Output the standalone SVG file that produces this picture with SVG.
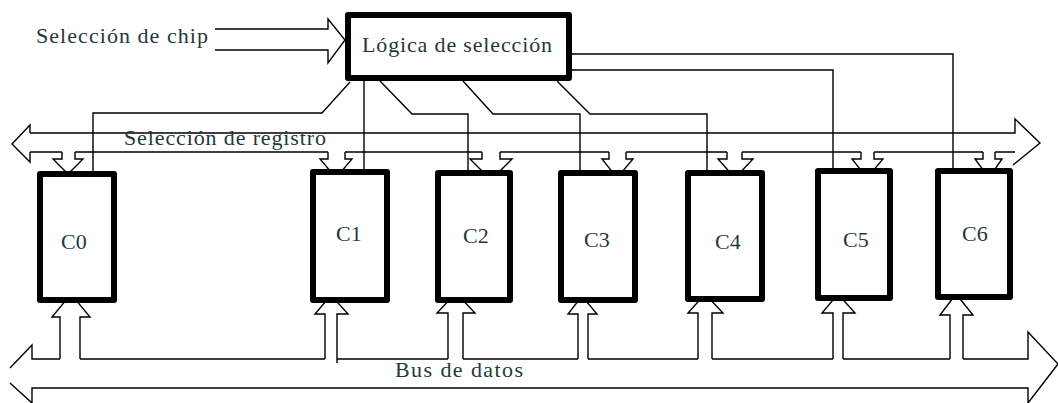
<svg xmlns="http://www.w3.org/2000/svg" width="1058" height="403" viewBox="0 0 1058 403">
<style>
.ln{fill:none;stroke:#000;stroke-width:1.4;stroke-linejoin:miter}
.ar{fill:#fff;stroke:#000;stroke-width:1.4}
.bx{fill:#fff;stroke:#000;stroke-width:6;stroke-linejoin:round}
.tx{font-family:"Liberation Serif","Times New Roman",serif;font-size:22px;fill:#1f3a3a}
.lb{font-family:"Liberation Serif","Times New Roman",serif;font-size:22px;fill:#1f3a3a}
</style>
<g id="connectors">
  <!-- chip select input arrow -->
  <path class="ln" d="M215,29 H328 V19 L345,40 L328,63 V50 H215"/>
  <!-- register select bus -->
  <path class="ln" d="M30,133 H1015 V119 L1040,143 L1013,165"/>
  <path class="ln" d="M30,133 V125 L12,144 L30,162 V152"/>
  <path class="ln" d="M30,152 H62 M75,152 H328 M345,152 H482 M500,152 H609 M626,152 H727 M742,152 H861 M874,152 H983 M995,152 H1015"/>
  <!-- register select down arrows -->
  <path class="ar" d="M62,152 V159 H53 L68,174 L83,159 H75 V152"/>
  <path class="ar" d="M328,152 V159 H320 L336,178 L352,159 H345 V152"/>
  <path class="ar" d="M482,152 V159 H470 L491,180 L512,159 H500 V152"/>
  <path class="ar" d="M609,152 V159 H602 L617,178 L633,159 H626 V152"/>
  <path class="ar" d="M727,152 V159 H718 L735,178 L753,159 H742 V152"/>
  <path class="ar" d="M861,152 V159 H852 L867,178 L883,159 H874 V152"/>
  <path class="ar" d="M983,152 V159 H975 L989,178 L1002,159 H995 V152"/>
  <!-- data bus -->
  <path class="ln" d="M10,368 L32,345 V359 H60 M80,359 H325 M337,359 H448 M463,359 H578 M588,359 H698 M712,359 H833 M843,359 H950 M963,359 H1028 V332 L1058,364 L1028,403 V388 H32 V403 L10,383"/>
  <!-- data bus up arrows -->
  <path class="ar" d="M60,359 V317 H52 L71,294 L90,317 H80 V359"/>
  <path class="ar" d="M325,359 V314 H315 L331,295 L348,314 H337 V363"/>
  <path class="ar" d="M448,359 V313 H437 L456,293 L475,313 H463 V359"/>
  <path class="ar" d="M578,359 V314 H568 L582,296 L597,314 H588 V359"/>
  <path class="ar" d="M698,359 V313 H688 L705,294 L723,313 H712 V359"/>
  <path class="ar" d="M833,359 V313 H822 L838,294 L855,313 H843 V359"/>
  <path class="ar" d="M950,359 V315 H940 L956,294 L973,315 H963 V359"/>
  <!-- chip select lines from selection logic -->
  <path class="ln" d="M350,82 L322,113 H93 V172"/>
  <path class="ln" d="M364,81 V170"/>
  <path class="ln" d="M380,81 L412,114 H468 V171"/>
  <path class="ln" d="M463,81 L493,114 H580 V171"/>
  <path class="ln" d="M557,81 L590,114 H707 V171"/>
  <path class="ln" d="M572,70 H833 V169"/>
  <path class="ln" d="M572,54 H953 V169"/>
</g>
<g id="logic">
  <rect class="bx" x="348" y="15" width="221" height="63"/>
  <text class="tx" x="362" y="52" textLength="190" lengthAdjust="spacing">Lógica de selección</text>
</g>
<g id="C0"><rect class="bx" x="40" y="174" width="74" height="126"/><text class="lb" x="61" y="249">C0</text></g>
<g id="C1"><rect class="bx" x="313" y="172" width="74" height="128"/><text class="lb" x="336" y="241">C1</text></g>
<g id="C2"><rect class="bx" x="438" y="173" width="72" height="127"/><text class="lb" x="463" y="243">C2</text></g>
<g id="C3"><rect class="bx" x="561" y="173" width="74" height="127"/><text class="lb" x="584" y="247">C3</text></g>
<g id="C4"><rect class="bx" x="688" y="173" width="74" height="126"/><text class="lb" x="715" y="249">C4</text></g>
<g id="C5"><rect class="bx" x="818" y="171" width="72" height="127"/><text class="lb" x="843" y="247">C5</text></g>
<g id="C6"><rect class="bx" x="938" y="171" width="72" height="126"/><text class="lb" x="962" y="241">C6</text></g>
<g id="labels">
  <text class="tx" x="36" y="43" textLength="172" lengthAdjust="spacing">Selección de chip</text>
  <text class="tx" x="124" y="145" textLength="202" lengthAdjust="spacing">Selección de registro</text>
  <text class="tx" x="395" y="377" textLength="128" lengthAdjust="spacing">Bus de datos</text>
</g>
</svg>
